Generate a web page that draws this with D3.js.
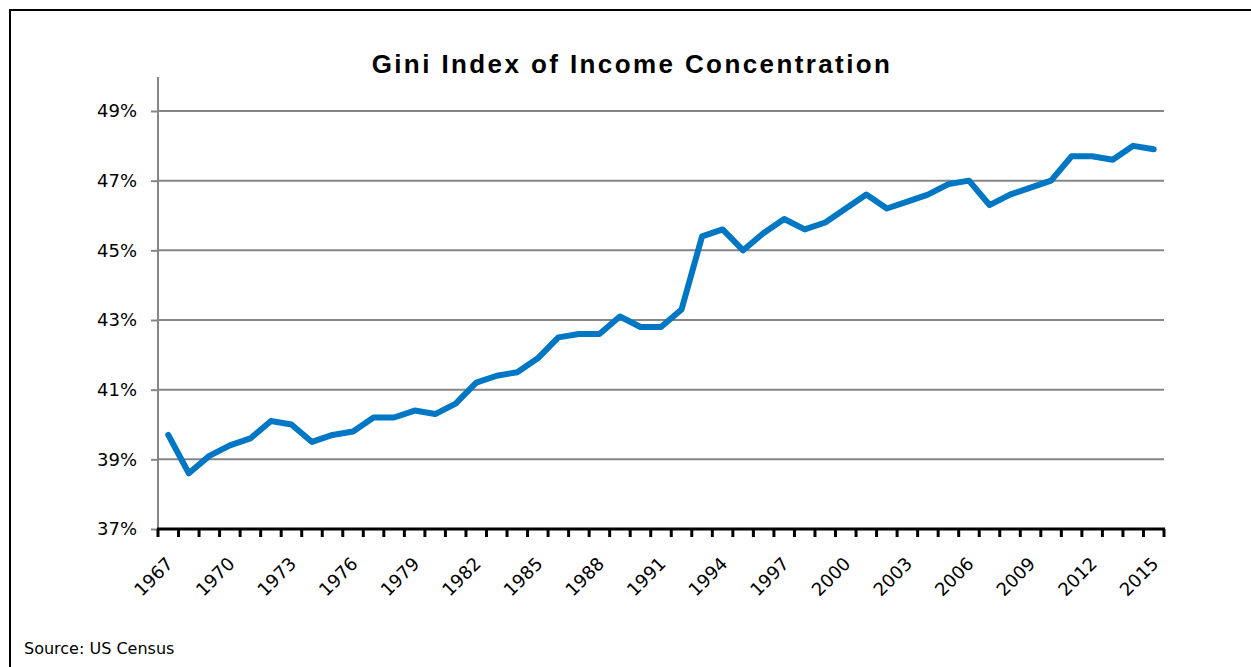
<!DOCTYPE html>
<html>
<head>
	<title>Gini Index</title>
	<style type="text/css">
		body { margin: 0; background: #fff; }
		svg { display: block; }
		.title { font-family: "Liberation Sans", Arial, sans-serif; font-weight: bold; font-size: 26px; letter-spacing: 2.4px; }
		.tick text { font-family: "DejaVu Sans", Tahoma, sans-serif; font-size: 18px; fill: #000; }
		.xl { font-family: "DejaVu Sans", Tahoma, sans-serif; font-size: 18px; fill: #000; }
		.source { font-family: "DejaVu Sans", Tahoma, sans-serif; font-size: 16px; }
		.grid line { stroke: #868686; stroke-width: 2; }
	</style>
</head>
<body>
	<div id="chart"></div>
	<script src="https://d3js.org/d3.v7.min.js"></script>
	<script type="text/javascript">
		var years = d3.range(1967, 2016);

		var gini = [39.7, 38.6, 39.1, 39.4, 39.6, 40.1, 40.0, 39.5, 39.7, 39.8,
			40.2, 40.2, 40.4, 40.3, 40.6, 41.2, 41.4, 41.5, 41.9, 42.5,
			42.6, 42.6, 43.1, 42.8, 42.8, 43.3, 45.4, 45.6, 45.0, 45.5,
			45.9, 45.6, 45.8, 46.2, 46.6, 46.2, 46.4, 46.6, 46.9, 47.0,
			46.3, 46.6, 46.8, 47.0, 47.7, 47.7, 47.6, 48.0, 47.9];

		var yTicks = [37, 39, 41, 43, 45, 47, 49];
		var labelYears = years.filter(function(y) { return (y - 1967) % 3 === 0; });

		var width = 1251, height = 667;
		var plotLeft = 158, plotRight = 1164, plotTop = 111, plotBottom = 529;

		var svg = d3.select('#chart')
			.append('svg')
			.attr('width', width)
			.attr('height', height);

		// outer frame
		svg.append('rect')
			.attr('x', 10).attr('y', 10)
			.attr('width', width).attr('height', height)
			.attr('fill', 'none')
			.attr('stroke', '#000')
			.attr('stroke-width', 2);

		var x = d3.scaleBand().domain(years).range([plotLeft, plotRight]),
			y = d3.scaleLinear().domain([37, 49]).range([plotBottom, plotTop]);

		// gridlines
		svg.append('g')
			.attr('class', 'grid')
			.selectAll('line')
			.data(yTicks.slice(1))
			.enter()
			.append('line')
			.attr('x1', plotLeft).attr('x2', plotRight)
			.attr('y1', function(d) { return y(d); })
			.attr('y2', function(d) { return y(d); });

		// y axis
		var yAxis = svg.append('g')
			.attr('transform', 'translate(' + plotLeft + ',0)')
			.call(d3.axisLeft(y).tickValues(yTicks).tickSize(7).tickPadding(14)
				.tickFormat(function(d) { return d + '%'; }));
		yAxis.select('.domain')
			.attr('d', 'M0,' + (plotTop - 34) + 'V' + plotBottom)
			.attr('stroke', '#868686').attr('stroke-width', 2);
		yAxis.selectAll('.tick line').attr('stroke', '#868686').attr('stroke-width', 2);

		// x axis, ticks between categories
		var xAxis = svg.append('g')
			.attr('transform', 'translate(0,' + plotBottom + ')');
		xAxis.append('line')
			.attr('x1', plotLeft - 1).attr('x2', plotRight + 1)
			.attr('stroke', '#000').attr('stroke-width', 3);
		var bounds = years.map(function(d) { return x(d); }).concat([plotRight]);
		xAxis.selectAll('line.tk')
			.data(bounds)
			.enter()
			.append('line')
			.attr('class', 'tk')
			.attr('x1', function(d) { return d; })
			.attr('x2', function(d) { return d; })
			.attr('y1', 0).attr('y2', 8)
			.attr('stroke', '#000').attr('stroke-width', 3);

		xAxis.selectAll('text')
			.data(labelYears)
			.enter()
			.append('text')
			.attr('class', 'xl')
			.attr('text-anchor', 'end')
			.attr('transform', function(d) {
				return 'translate(' + (x(d) + x.bandwidth() / 2 - 3) + ',27) rotate(-45)';
			})
			.attr('dy', '0.7em')
			.text(function(d) { return d; });

		// line
		var line = d3.line()
			.x(function(d, i) { return x(years[i]) + x.bandwidth() / 2; })
			.y(function(d) { return y(d); });

		svg.append('path')
			.datum(gini)
			.attr('d', line)
			.attr('fill', 'none')
			.attr('stroke', '#0077C4')
			.attr('stroke-width', 6)
			.attr('stroke-linejoin', 'round')
			.attr('stroke-linecap', 'round');

		svg.append('text')
			.attr('class', 'title')
			.attr('x', 632).attr('y', 73)
			.attr('text-anchor', 'middle')
			.text('Gini Index of Income Concentration');

		svg.append('text')
			.attr('class', 'source')
			.attr('x', 24).attr('y', 654)
			.text('Source: US Census');
	</script>
</body>
</html>
